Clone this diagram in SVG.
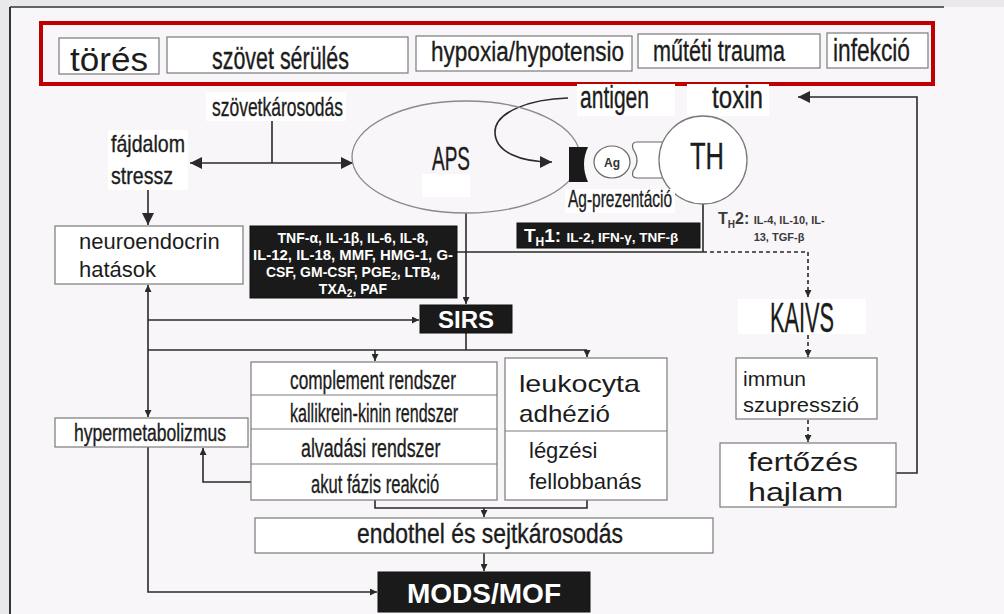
<svg xmlns="http://www.w3.org/2000/svg" width="1004" height="614" viewBox="0 0 1004 614">
  <defs>
    <style>
      .t { font-family: "Liberation Sans", Arial, sans-serif; fill: #1c1c1c; }
      .n { stroke: #1c1c1c; stroke-width: 0.35; }
      .box { fill: #ffffff; stroke: #7a7a7a; stroke-width: 1.2; }
      .blk { fill: #1a1a1a; stroke: #111; stroke-width: 1; }
      .wt { font-family: "Liberation Sans", Arial, sans-serif; font-weight: bold; fill: #ffffff; }
      .ln { fill: none; stroke: #2a2a2a; stroke-width: 1.6; }
      .dash { fill: none; stroke: #2a2a2a; stroke-width: 1.6; stroke-dasharray: 4 3; }
      .bg { fill: #ffffff; }
      .sep { stroke: #7a7a7a; stroke-width: 1.2; }
    </style>
    <marker id="ah" viewBox="0 0 10 10" refX="10" refY="5" markerWidth="8" markerHeight="7" markerUnits="userSpaceOnUse" orient="auto-start-reverse">
      <path d="M0 0 L10 5 L0 10 Z" fill="#2a2a2a"/>
    </marker>
    <marker id="ahBig" viewBox="0 0 10 10" refX="10" refY="5" markerWidth="17" markerHeight="12" markerUnits="userSpaceOnUse" orient="auto-start-reverse">
      <path d="M0 0 L10 5 L0 10 Z" fill="#2a2a2a"/>
    </marker>
  </defs>

  <!-- page and frame -->
  <rect x="0" y="0" width="1004" height="614" fill="#e9e9eb"/>
  <rect x="10" y="7" width="994" height="607" fill="#f9f6f9"/>
  <line x1="10" y1="7" x2="10" y2="614" stroke="#333" stroke-width="2"/>
  <line x1="10" y1="7" x2="944" y2="7" stroke="#333" stroke-width="1.5"/>

  <!-- causes bar -->
  <g id="causes">
    <rect x="41" y="23" width="892" height="61" fill="none" stroke="#c00000" stroke-width="4"/>
    <g id="n-tores">
      <rect class="box" x="59" y="38" width="100" height="36"/>
      <text class="t" x="70" y="71" font-size="33" textLength="78" lengthAdjust="spacingAndGlyphs">törés</text>
    </g>
    <g id="n-szovet">
      <rect class="box" x="167" y="37" width="241" height="36"/>
      <text class="t n" x="212" y="69" font-size="31" textLength="137" lengthAdjust="spacingAndGlyphs">szövet sérülés</text>
    </g>
    <g id="n-hypoxia">
      <rect class="box" x="416" y="36" width="216" height="35"/>
      <text class="t n" x="431" y="61" font-size="27" textLength="193" lengthAdjust="spacingAndGlyphs">hypoxia/hypotensio</text>
    </g>
    <g id="n-mutet">
      <rect class="box" x="638" y="34" width="182" height="34"/>
      <text class="t n" x="653" y="61" font-size="29" textLength="132" lengthAdjust="spacingAndGlyphs">műtéti trauma</text>
    </g>
    <g id="n-infekcio">
      <rect class="box" x="827" y="33" width="101" height="35"/>
      <text class="t n" x="833" y="61" font-size="32" textLength="77" lengthAdjust="spacingAndGlyphs">infekció</text>
    </g>
  </g>

  <!-- connectors -->
  <g id="connectors">
    <path class="ln" d="M272 119 V163"/>
    <path class="ln" d="M190 163 H353" stroke-width="2.2" marker-start="url(#ahBig)" marker-end="url(#ahBig)"/>
    <path class="ln" d="M148 190 V225" stroke-width="2" marker-end="url(#ahBig)"/>
    <path class="ln" d="M148 350 V285" marker-end="url(#ah)"/>
    <path class="ln" d="M148 350 V417" marker-end="url(#ah)"/>
    <path class="ln" d="M148 320 H419" marker-end="url(#ah)"/>
    <path class="ln" d="M148 350 H587"/>
    <path class="ln" d="M375 350 V361" marker-end="url(#ah)"/>
    <path class="ln" d="M587 350 V357" marker-end="url(#ah)"/>
    <path class="ln" d="M466 333 V350"/>
    <path class="ln" d="M466 213 V304" marker-end="url(#ah)"/>
    <path class="ln" d="M457 252 H703 M703 204 V252"/>
    <path class="dash" d="M703 252 H808 V297" marker-end="url(#ah)"/>
    <path class="dash" d="M808 335 V357" marker-end="url(#ah)"/>
    <path class="dash" d="M808 420 V442" marker-end="url(#ah)"/>
    <path class="ln" d="M896 473 H917 V97 H798" stroke-width="2" marker-end="url(#ahBig)"/>
    <path class="ln" d="M251 482 H203 V448" marker-end="url(#ah)"/>
    <path class="ln" d="M375 500 V508 H587 V500 M484 508 V517" marker-end="url(#ah)"/>
    <path class="ln" d="M484 553 V571" marker-end="url(#ah)"/>
    <path class="ln" d="M148 447 V592 H377" marker-end="url(#ah)"/>
    <path class="ln" d="M568 98 C530 99 495 112 495 132 C495 152 520 162 552 162" stroke-width="4.5" marker-end="url(#ahBig)"/>
  </g>

  <!-- injury and stress labels -->
  <g id="n-szovetkarosodas">
    <rect class="bg" x="206" y="92" width="140" height="29"/>
    <text class="t n" x="212" y="116" font-size="26" textLength="131" lengthAdjust="spacingAndGlyphs">szövetkárosodás</text>
  </g>
  <g id="n-fajdalom">
    <rect class="bg" x="108" y="130" width="80" height="60"/>
    <text class="t n" x="111" y="152" font-size="24" textLength="74" lengthAdjust="spacingAndGlyphs">fájdalom</text>
    <text class="t n" x="111" y="184" font-size="24" textLength="62" lengthAdjust="spacingAndGlyphs">stressz</text>
  </g>

  <!-- antigen presenting cell and T helper cell -->
  <g id="n-aps">
    <ellipse cx="466" cy="157" rx="114" ry="56" fill="none" stroke="#8a8a8a" stroke-width="1.3"/>
    <text class="t n" x="432" y="170" font-size="33" textLength="38" lengthAdjust="spacingAndGlyphs">APS</text>
    <rect class="bg" x="422" y="174" width="48" height="23"/>
  </g>
  <g id="n-antigen">
    <rect class="bg" x="577" y="84" width="98" height="32"/>
    <text class="t n" x="580" y="108" font-size="31" textLength="69" lengthAdjust="spacingAndGlyphs">antigen</text>
  </g>
  <g id="n-toxin">
    <rect class="bg" x="687" y="84" width="82" height="32"/>
    <text class="t n" x="712" y="108" font-size="31" textLength="51" lengthAdjust="spacingAndGlyphs">toxin</text>
  </g>
  <g id="n-ag">
    <path d="M569 147 H588 Q580 164 588 182 H569 Z" fill="#1a1a1a"/>
    <ellipse cx="612" cy="162" rx="18" ry="16" fill="#ffffff" stroke="#666" stroke-width="1.2"/>
    <text x="612" y="167" font-family="Liberation Sans, Arial, sans-serif" font-weight="bold" font-size="12" fill="#333" text-anchor="middle">Ag</text>
    <path d="M664 142 H637 Q631 142 633 149 Q641 161 633 171 Q631 178 637 178 H664" fill="#ffffff" stroke="#666" stroke-width="1.2"/>
  </g>
  <g id="n-th">
    <circle cx="703" cy="160" r="44" fill="#ffffff" stroke="#7a7a7a" stroke-width="1.3"/>
    <rect class="bg" x="687" y="145" width="40" height="28"/>
    <text class="t n" x="690" y="169" font-size="36" textLength="34" lengthAdjust="spacingAndGlyphs">TH</text>
  </g>
  <g id="n-agprez">
    <rect class="bg" x="565" y="189" width="110" height="24"/>
    <text class="t n" x="568" y="207" font-size="24" textLength="104" lengthAdjust="spacingAndGlyphs">Ag-prezentáció</text>
  </g>

  <!-- cytokines -->
  <g id="n-cytokin">
    <rect class="blk" x="250" y="226" width="207" height="72"/>
    <text class="wt" x="353" y="243" font-size="14" text-anchor="middle">TNF-α, IL-1β, IL-6, IL-8,</text>
    <text class="wt" x="353" y="260" font-size="14" text-anchor="middle" textLength="200" lengthAdjust="spacingAndGlyphs">IL-12, IL-18, MMF, HMG-1, G-</text>
    <text class="wt" x="353" y="277" font-size="14" text-anchor="middle">CSF, GM-CSF, PGE<tspan font-size="10" dy="3">2</tspan><tspan dy="-3">, LTB</tspan><tspan font-size="10" dy="3">4</tspan><tspan dy="-3">,</tspan></text>
    <text class="wt" x="353" y="294" font-size="14" text-anchor="middle">TXA<tspan font-size="10" dy="3">2</tspan><tspan dy="-3">, PAF</tspan></text>
  </g>
  <g id="n-th1">
    <rect class="blk" x="517" y="223" width="183" height="25"/>
    <text class="wt" x="524" y="242" font-size="19">T<tspan font-size="12" dy="4">H</tspan><tspan dy="-4">1: </tspan><tspan font-size="13.5">IL-2, IFN-γ, TNF-β</tspan></text>
  </g>
  <g id="n-th2">
    <text x="718" y="224" font-family="Liberation Sans, Arial, sans-serif" font-weight="bold" fill="#3a3a3a" font-size="16">T<tspan font-size="10" dy="4">H</tspan><tspan dy="-4">2: </tspan><tspan font-size="11">IL-4, IL-10, IL-</tspan></text>
    <text x="779" y="241" font-family="Liberation Sans, Arial, sans-serif" font-weight="bold" fill="#3a3a3a" font-size="11" text-anchor="middle">13, TGF-β</text>
  </g>

  <!-- left column -->
  <g id="n-neuroendocrin">
    <rect class="box" x="55" y="226" width="188" height="58"/>
    <text class="t" x="79" y="249" font-size="22">neuroendocrin</text>
    <text class="t" x="79" y="277" font-size="22">hatások</text>
  </g>
  <g id="n-hypermetab">
    <rect class="box" x="55" y="418" width="193" height="29"/>
    <text class="t n" x="74" y="441" font-size="23" textLength="152" lengthAdjust="spacingAndGlyphs">hypermetabolizmus</text>
  </g>

  <g id="n-sirs">
    <rect class="blk" x="420" y="305" width="92" height="28"/>
    <text class="wt" x="466" y="328" font-size="24" text-anchor="middle">SIRS</text>
  </g>

  <!-- cascade systems (narrow lettering drawn by horizontal scaling) -->
  <g id="n-rendszerek">
    <rect class="box" x="251" y="362" width="246" height="138"/>
    <line class="sep" x1="251" y1="395" x2="497" y2="395"/>
    <line class="sep" x1="251" y1="429" x2="497" y2="429"/>
    <line class="sep" x1="251" y1="464" x2="497" y2="464"/>
    <text class="t n" transform="translate(290 389) scale(0.7 1)" font-size="26" textLength="237" lengthAdjust="spacingAndGlyphs">complement rendszer</text>
    <text class="t n" transform="translate(290 422) scale(0.7 1)" font-size="26" textLength="240" lengthAdjust="spacingAndGlyphs">kallikrein-kinin rendszer</text>
    <text class="t n" transform="translate(301 457) scale(0.7 1)" font-size="26" textLength="199" lengthAdjust="spacingAndGlyphs">alvadási rendszer</text>
    <text class="t n" transform="translate(311 493) scale(0.7 1)" font-size="26" textLength="183" lengthAdjust="spacingAndGlyphs">akut fázis reakció</text>
  </g>
  <g id="n-leukocyta">
    <rect class="box" x="505" y="358" width="162" height="142"/>
    <line class="sep" x1="505" y1="431" x2="667" y2="431"/>
    <text class="t" x="519" y="392" font-size="24" textLength="121" lengthAdjust="spacingAndGlyphs">leukocyta</text>
    <text class="t" x="519" y="422" font-size="24" textLength="91" lengthAdjust="spacingAndGlyphs">adhézió</text>
    <text class="t" x="529" y="458" font-size="22">légzési</text>
    <text class="t" x="529" y="489" font-size="22">fellobbanás</text>
  </g>

  <g id="n-endothel">
    <rect class="box" x="255" y="518" width="458" height="35"/>
    <text class="t n" x="357" y="543" font-size="27" textLength="266" lengthAdjust="spacingAndGlyphs">endothel és sejtkárosodás</text>
  </g>
  <g id="n-mods">
    <rect class="blk" x="378" y="572" width="212" height="40"/>
    <text class="wt" x="484" y="603" font-size="28" text-anchor="middle">MODS/MOF</text>
  </g>

  <!-- immune suppression branch -->
  <g id="n-kaivs">
    <rect class="bg" x="738" y="299" width="128" height="35"/>
    <text class="t n" x="770" y="332" font-size="42" textLength="64" lengthAdjust="spacingAndGlyphs">KAIVS</text>
  </g>
  <g id="n-immun">
    <rect class="box" x="736" y="358" width="141" height="61"/>
    <text class="t" x="743" y="386" font-size="21">immun</text>
    <text class="t" x="743" y="412" font-size="21" textLength="116" lengthAdjust="spacingAndGlyphs">szupresszió</text>
  </g>
  <g id="n-fertozes">
    <rect class="box" x="720" y="443" width="176" height="64"/>
    <text class="t" x="748" y="471" font-size="26" textLength="110" lengthAdjust="spacingAndGlyphs">fertőzés</text>
    <text class="t" x="748" y="501" font-size="26" textLength="95" lengthAdjust="spacingAndGlyphs">hajlam</text>
  </g>
</svg>
